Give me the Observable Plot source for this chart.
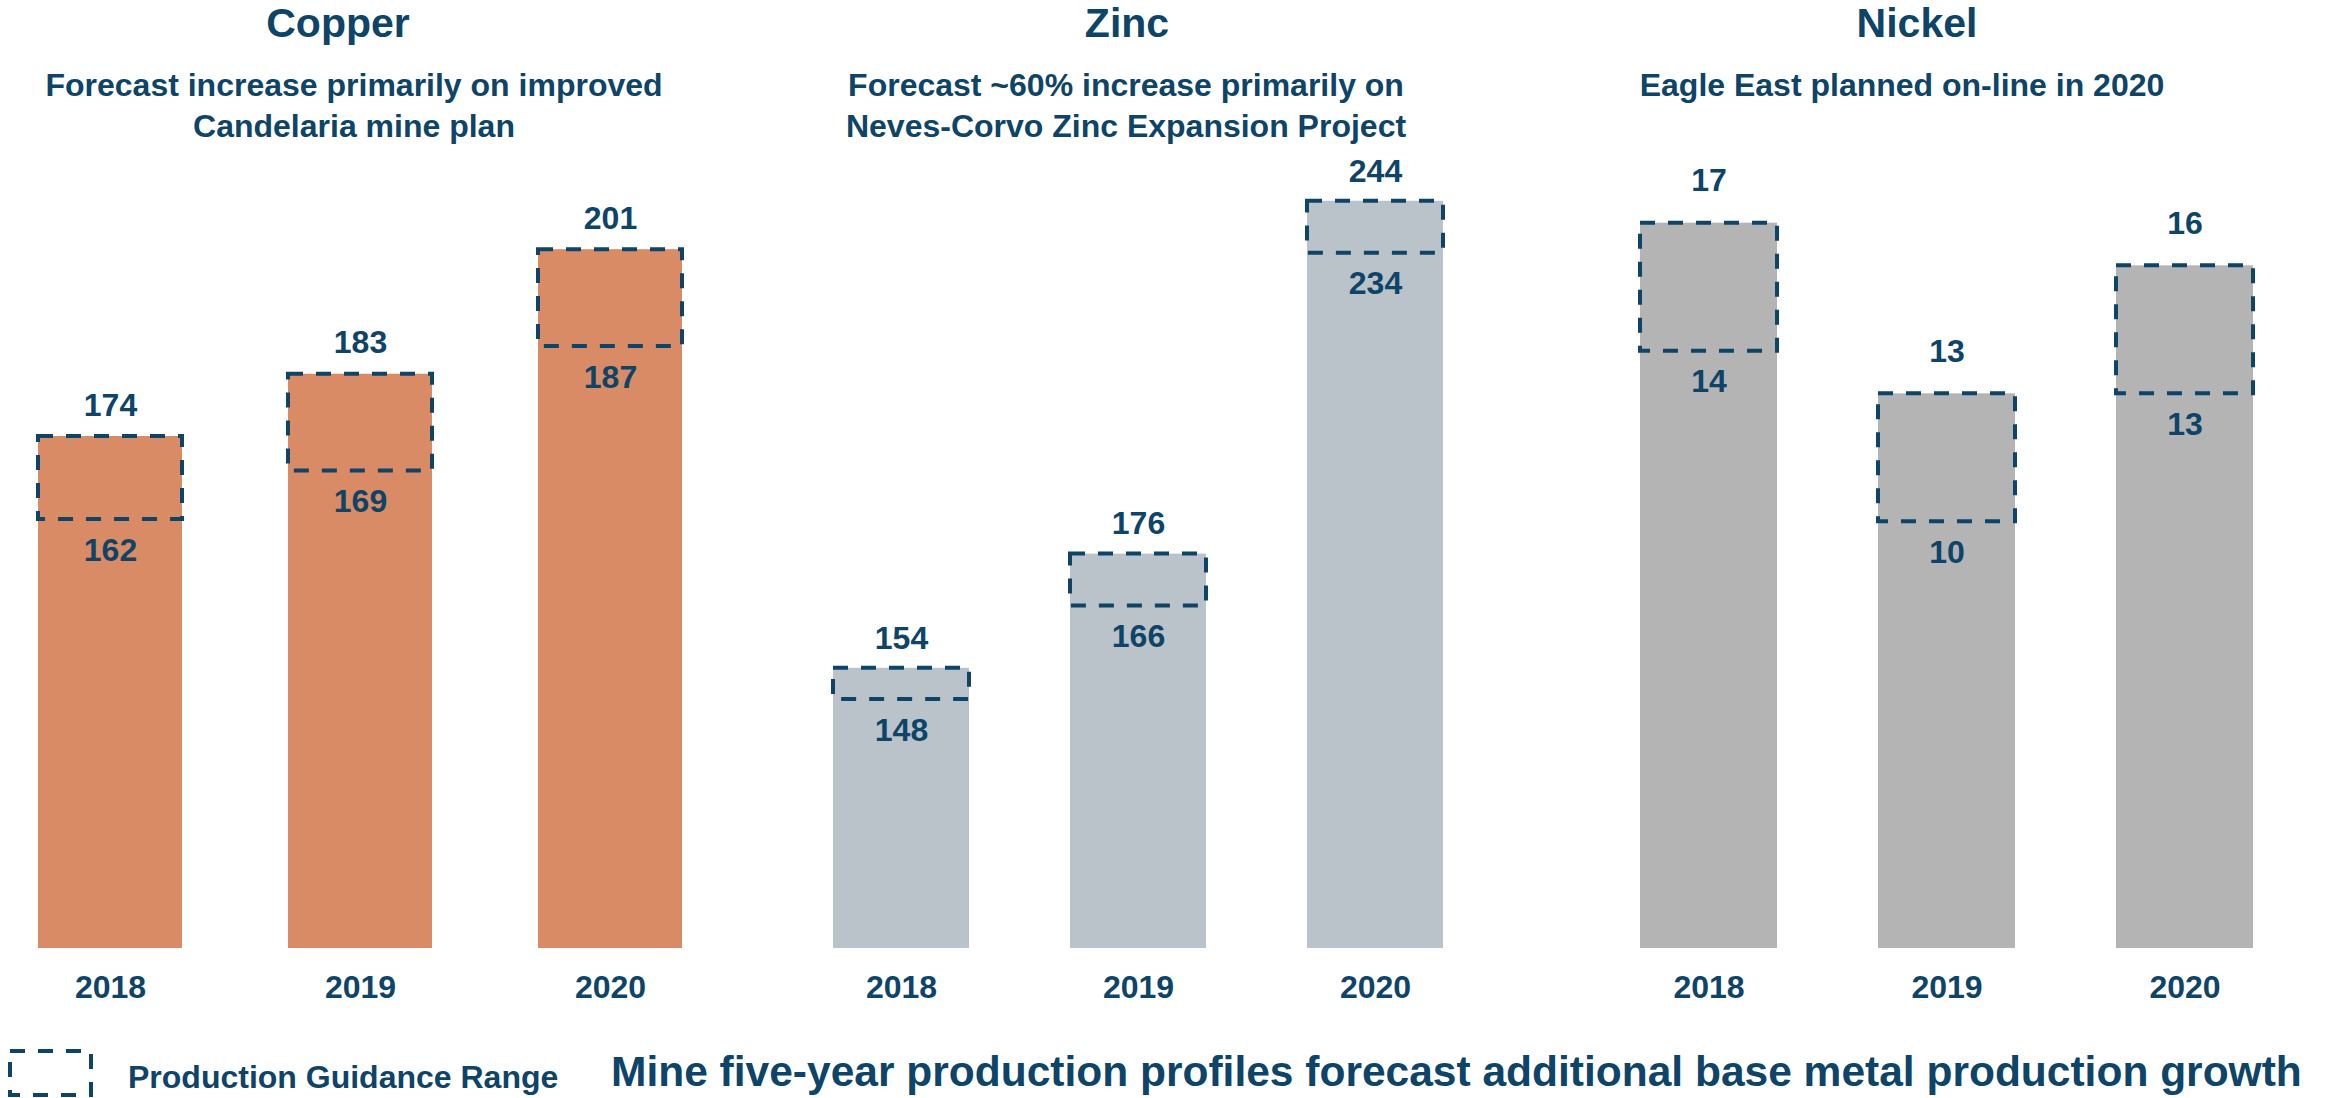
<!DOCTYPE html>
<html>
<head>
<meta charset="utf-8">
<script src="https://cdn.jsdelivr.net/npm/d3@7"></script>
<script src="https://cdn.jsdelivr.net/npm/@observablehq/plot@0.6"></script>
<style>
  html, body { margin: 0; padding: 0; background: #ffffff; }
  #page { position: relative; width: 2336px; height: 1098px; overflow: hidden;
          font-family: "Liberation Sans", Arial, sans-serif; font-weight: bold; color: #0d4467; }
  .t { position: absolute; white-space: nowrap; }
  .panel { position: absolute; top: 150px; }
  .panel svg { overflow: visible; }
</style>
</head>
<body>
<div id="page"></div>
<script>
// ---- data ----
const years = ["2018", "2019", "2020"];
const metals = ["Copper", "Zinc", "Nickel"];
const subtitles = [
  ["Forecast increase primarily on improved", "Candelaria mine plan"],
  ["Forecast ~60% increase primarily on", "Neves-Corvo Zinc Expansion Project"],
  ["Eagle East planned on-line in 2020"]
];
const copperLow = [162, 169, 187];
const copperHigh = [174, 183, 201];
const zincLow = [148, 166, 234];
const zincHigh = [154, 176, 244];
const nickelLow = [14, 10, 13];
const nickelHigh = [17, 13, 16];
const legendLabel = "Production Guidance Range";
const footerTitle = "Mine five-year production profiles forecast additional base metal production growth";

// ---- styles ----
const navy = "#0d4467";
const fills = ["#d98b66", "#bac3c9", "#b4b4b4"];
const font = '"Liberation Sans", Arial, sans-serif';
const page = document.getElementById("page");

function addText(txt, x, baseline, size, anchor) {
  const d = document.createElement("div");
  d.className = "t";
  d.textContent = txt;
  d.style.fontSize = size + "px";
  d.style.lineHeight = "1";
  d.style.top = (baseline - 0.8465 * size) + "px";
  d.style.left = x + "px";
  if (anchor === "middle") d.style.transform = "translateX(-50%)";
  page.appendChild(d);
}

function panel(low, high, fill, domain, left, width, upOffset) {
  const data = years.map((year, i) => ({year, low: low[i], high: high[i]}));
  const chart = Plot.plot({
    width, height: 860,
    marginLeft: 20, marginRight: 20, marginTop: 30, marginBottom: 62,
    x: {domain: years, paddingInner: 0.425, paddingOuter: 0, label: null},
    y: {domain, axis: null},
    style: {fontFamily: font, fontWeight: "bold", fontSize: "32px", color: navy, background: "transparent", overflow: "visible"},
    marks: [
      Plot.barY(data, {x: "year", y1: domain[0], y2: "high", fill}),
      Plot.barY(data, {x: "year", y1: "low", y2: "high", fill: "none", stroke: navy,
                       strokeWidth: 4, strokeDasharray: "15,13"}),
      Plot.text(data, {x: "year", y: "high", text: d => String(d.high), dy: -upOffset,
                       fill: navy, fontSize: 32, fontWeight: "bold"}),
      Plot.text(data, {x: "year", y: "low", text: d => String(d.low), dy: 31,
                       fill: navy, fontSize: 32, fontWeight: "bold"}),
      Plot.axisX({tickSize: 0, tickPadding: 27, fontSize: 32, fontWeight: "bold", label: null, fill: navy})
    ]
  });
  const wrap = document.createElement("div");
  wrap.className = "panel";
  wrap.style.left = left + "px";
  wrap.appendChild(chart);
  page.appendChild(wrap);
}

panel(copperLow, copperHigh, fills[0], [100, 211], 17, 685, 31);
panel(zincLow, zincHigh, fills[1], [100, 248], 812, 652, 30);
panel(nickelLow, nickelHigh, fills[2], [0, 18], 1620, 653, 42);

// titles & subtitles
const titleX = [338, 1127, 1917];
const subX = [354, 1126, 1902];
metals.forEach((m, i) => {
  addText(m, titleX[i], 38, 41, "middle");
  subtitles[i].forEach((line, j) => addText(line, subX[i], 96 + j * 41, 32, "middle"));
});

// legend swatch
const ns = "http://www.w3.org/2000/svg";
const sw = document.createElementNS(ns, "svg");
sw.setAttribute("width", 100); sw.setAttribute("height", 60);
sw.style.position = "absolute"; sw.style.left = "0px"; sw.style.top = "1043px";
const r = document.createElementNS(ns, "rect");
r.setAttribute("x", 10); r.setAttribute("y", 8); r.setAttribute("width", 81); r.setAttribute("height", 44);
r.setAttribute("fill", "none"); r.setAttribute("stroke", navy); r.setAttribute("stroke-width", 4);
r.setAttribute("stroke-dasharray", "15,13");
sw.appendChild(r);
page.appendChild(sw);
addText(legendLabel, 128, 1088, 32, "start");
addText(footerTitle, 611, 1087, 42.5, "start");
</script>
</body>
</html>
